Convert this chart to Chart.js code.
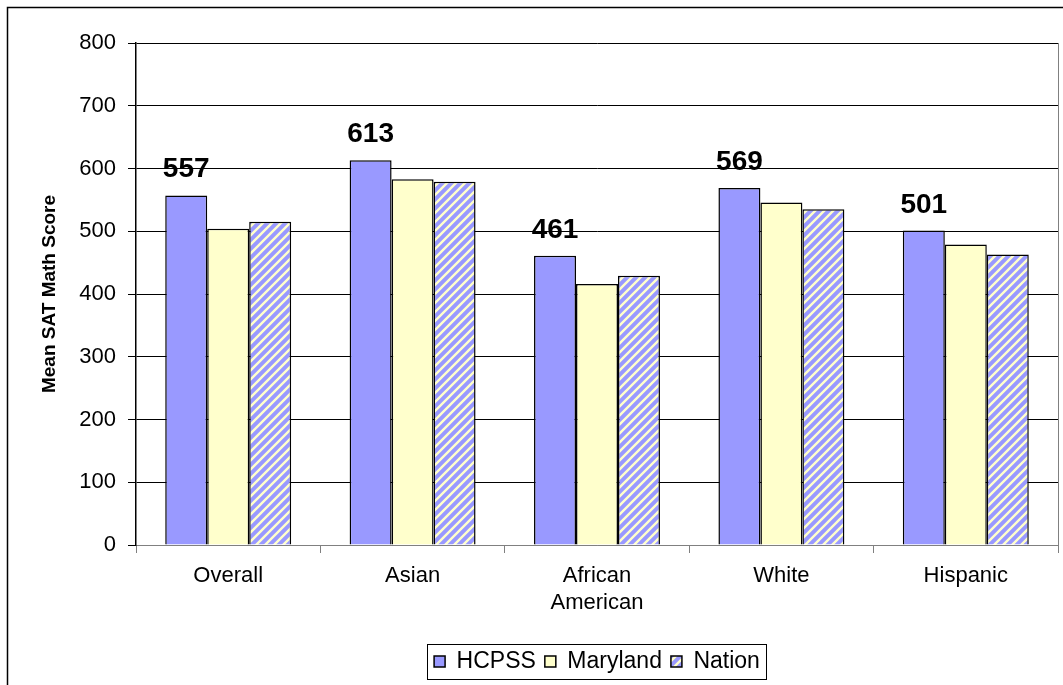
<!DOCTYPE html>
<html>
<head>
<meta charset="utf-8">
<script src="https://cdn.jsdelivr.net/npm/chart.js@4"></script>
<style>
  body { margin: 0; background: #fff; }
  #wrap { width: 1063px; height: 685px; }
</style>
</head>
<body>
<div id="wrap"><canvas id="myChart" width="1063" height="685"></canvas></div>
<script>
/* ---------- DATA ---------- */
const groups = ['Overall', 'Asian', ['African', 'American'], 'White', 'Hispanic'];
const hcpss = [557, 613, 461, 569, 501];
const maryland = [504, 583, 416, 546, 479];
const nation = [515, 579, 429, 535, 463];
const yTicks = [0, 100, 200, 300, 400, 500, 600, 700, 800];

const FONT = 'Arial, "Liberation Sans", sans-serif';

/* ---------- STRIPE PATTERN ---------- */
function stripes() {
    const s = 9;
    const c = document.createElement('canvas');
    c.width = s; c.height = s;
    const g = c.getContext('2d');
    g.fillStyle = '#9999FF';
    g.fillRect(0, 0, s, s);
    g.strokeStyle = '#FFFFCC';
    g.lineWidth = 2.4;
    g.beginPath();
    g.moveTo(-1, s + 1); g.lineTo(s + 1, -1);
    g.moveTo(-1, 1); g.lineTo(1, -1);
    g.moveTo(s - 1, s + 1); g.lineTo(s + 1, s - 1);
    g.stroke();
    return g.createPattern(c, 'repeat');
}

/* ---------- PLUGINS ---------- */
const frame = {
    id: 'frame',
    beforeDraw(chart) {
        const ctx = chart.ctx;
        ctx.save();
        ctx.strokeStyle = '#000';
        ctx.lineWidth = 1.5;
        ctx.strokeRect(7.5, 7.5, 1100, 720);
        ctx.restore();
    },
    afterDraw(chart) {
        const ctx = chart.ctx;
        const a = chart.chartArea;
        ctx.save();
        // right edge of plot area
        ctx.strokeStyle = '#808080';
        ctx.lineWidth = 1;
        ctx.beginPath();
        ctx.moveTo(a.right + 0.5, a.top);
        ctx.lineTo(a.right + 0.5, a.bottom);
        ctx.stroke();
        // box round the legend
        const boxes = chart.legend.legendHitBoxes;
        if (boxes && boxes.length) {
            const l = Math.min(...boxes.map(b => b.left)) - 7;
            const r = Math.max(...boxes.map(b => b.left + b.width)) + 6;
            const t = boxes[0].top - 6;
            const h = boxes[0].height + 12;
            ctx.strokeStyle = '#000';
            ctx.lineWidth = 1;
            ctx.strokeRect(Math.round(l) + 0.5, Math.round(t) + 0.5, Math.round(r - l), Math.round(h));
        }
        ctx.restore();
    }
};

const valueLabels = {
    id: 'valueLabels',
    afterDatasetsDraw(chart) {
        const ctx = chart.ctx;
        const meta = chart.getDatasetMeta(0);
        ctx.save();
        ctx.font = 'bold 28px ' + FONT;
        ctx.fillStyle = '#000';
        ctx.textAlign = 'center';
        ctx.textBaseline = 'alphabetic';
        meta.data.forEach((bar, i) => {
            ctx.fillText(String(hcpss[i]), bar.x, bar.y - 18);
        });
        ctx.restore();
    }
};

/* ---------- CHART ---------- */
const ctx = document.getElementById('myChart').getContext('2d');
new Chart(ctx, {
    type: 'bar',
    data: {
        labels: groups,
        datasets: [
            { label: 'HCPSS', data: hcpss, backgroundColor: '#9999FF', borderColor: '#000', borderWidth: 1.5 },
            { label: 'Maryland', data: maryland, backgroundColor: '#FFFFCC', borderColor: '#000', borderWidth: 1.5 },
            { label: 'Nation', data: nation, backgroundColor: stripes(), borderColor: '#000', borderWidth: 1.5 }
        ]
    },
    options: {
        responsive: false,
        animation: false,
        devicePixelRatio: 1,
        datasets: { bar: { categoryPercentage: 0.683, barPercentage: 1 } },
        layout: { padding: { top: 43, right: 5, bottom: 2, left: 0 } },
        plugins: {
            tooltip: { enabled: false },
            legend: {
                position: 'bottom',
                fullSize: false,
                labels: {
                    font: { family: FONT, size: 23 },
                    color: '#000',
                    boxWidth: 11,
                    boxHeight: 11,
                    padding: 9
                }
            }
        },
        scales: {
            x: {
                afterFit: s => { s.height = 96; },
                grid: {
                    offset: true,
                    drawOnChartArea: false,
                    tickLength: 8,
                    color: '#808080'
                },
                border: { color: '#808080', width: 1 },
                ticks: {
                    font: { family: FONT, size: 22, lineHeight: 1.23 },
                    color: '#000',
                    padding: 9,
                    maxRotation: 0,
                    autoSkip: false
                }
            },
            y: {
                min: 0,
                max: 800,
                afterFit: s => { s.width = 136; },
                afterBuildTicks: s => { s.ticks = yTicks.map(v => ({ value: v })); },
                grid: {
                    color: c => (c.tick && c.tick.value === 0) ? '#808080' : '#000',
                    tickLength: 8,
                    tickColor: '#000'
                },
                border: { color: '#000', width: 1.5 },
                ticks: {
                    font: { family: FONT, size: 22 },
                    color: '#000',
                    padding: 12
                },
                title: {
                    display: true,
                    text: 'Mean SAT Math Score',
                    font: { family: FONT, size: 19, weight: 'bold' },
                    color: '#000',
                    padding: { top: 38, bottom: 0 }
                }
            }
        }
    },
    plugins: [frame, valueLabels]
});
</script>
</body>
</html>
